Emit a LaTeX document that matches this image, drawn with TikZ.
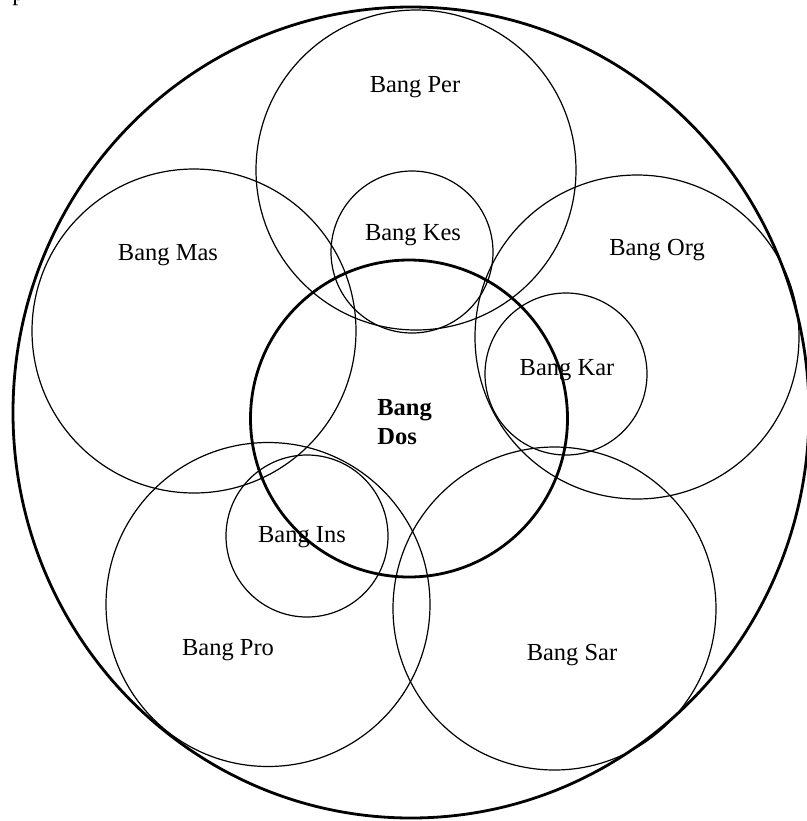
\documentclass[tikz,border=0pt]{standalone}
\usepackage{fontspec}
\setmainfont{Liberation Serif}
\usepackage{tikz}
\usetikzlibrary{shapes.geometric, positioning}

\begin{document}
\begin{tikzpicture}[
    x=0.5pt, y=-0.5pt,
    ring/.style  = {ellipse, draw=black, line width=0.6pt, inner sep=0pt},
    bold/.style  = {ellipse, draw=black, line width=1.4pt, inner sep=0pt},
    lbl/.style   = {font=\fontsize{12.25}{14.5}\selectfont, inner sep=0pt}
  ]
  \useasboundingbox (0,0) rectangle (807,821);

  % Stray text at the top edge
  \node[lbl, anchor=base west] (stray) at (12,0.5) {p};

  % Outer ring
  \node[bold, minimum width=398pt, minimum height=405.5pt] (outer) at (411,412.5) {};

  % Big rings
  \node[ring, minimum size=160pt]   (per) at (416,170)   {};
  \node[ring, minimum size=162pt]   (mas) at (194,331)   {};
  \node[ring, minimum size=162pt]   (org) at (637,337)   {};
  \node[ring, minimum size=162pt]   (pro) at (268,604.5) {};
  \node[ring, minimum size=161.5pt] (sar) at (554.5,608.5) {};

  % Small rings
  \node[ring, minimum size=81pt] (kes) at (412,252) {};
  \node[ring, minimum size=81pt] (kar) at (566,374) {};
  \node[ring, minimum size=81pt] (ins) at (307,536) {};

  % Central ring
  \node[bold, minimum size=158.5pt] (dos) at (409,418.5) {};

  % Labels
  \node[lbl] (perlbl) at (415,87)  {Bang Per};
  \node[lbl] (keslbl) at (413,235) {Bang Kes};
  \node[lbl] (maslbl) at (168,255) {Bang Mas};
  \node[lbl] (orglbl) at (657,250) {Bang Org};
  \node[lbl] (karlbl) at (567,370) {Bang Kar};
  \node[lbl] (inslbl) at (302,537) {Bang Ins};
  \node[lbl] (prolbl) at (228,650) {Bang Pro};
  \node[lbl] (sarlbl) at (572,655) {Bang Sar};
  \node[lbl, anchor=west, align=left, font=\fontsize{12.25}{14.5}\selectfont\bfseries]
    (doslbl) at (377,422.5) {Bang\\Dos};
\end{tikzpicture}
\end{document}
